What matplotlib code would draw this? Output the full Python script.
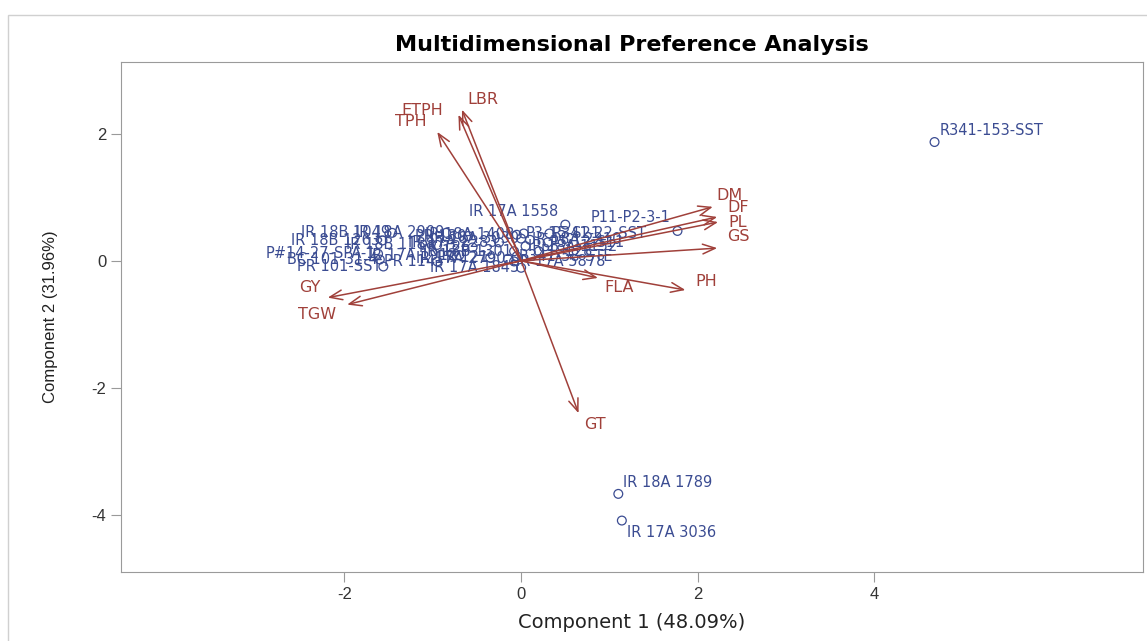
import numpy as np
import matplotlib
matplotlib.use('Agg')
import matplotlib.pyplot as plt
from matplotlib.patches import Rectangle

plt.rcParams['axes.unicode_minus'] = False

# variable vectors (component loadings, scaled)
vec_names = ['LBR', 'ETPH', 'TPH', 'DM', 'DF', 'PL', 'GS', 'PH', 'FLA', 'GT', 'TGW', 'GY']
vec_x = [-0.67, -0.71, -0.95, 2.17, 2.22, 2.23, 2.22, 1.86, 0.87, 0.65, -1.97, -2.19]
vec_y = [2.38, 2.30, 2.03, 0.85, 0.69, 0.61, 0.20, -0.46, -0.27, -2.40, -0.69, -0.58]

# genotype scores
obs_names = ['R341-153-SST', 'IR 18A 1789', 'IR 17A 3036', 'IR 17A 1558', 'P11-P2-3-1',
             'IR 18B 1049', 'IR 18A 2909', 'IR 18B 1263', 'P#14-27-SPA-1', 'BC 101-31-4',
             'PR 101-SST', 'IR 17A 1845', 'IR 18A 1408', 'IR 17A 2283', 'PR 126',
             'IR 18B 1301', 'PR 121', 'IR 17A 1912', 'IR 18A 3030', 'PR 114',
             'IR 18B 1188', 'IR 17A 2790', 'PR 130',
             'P3-15-S21', 'R341-22-SST', 'IR 18A 1152', 'R341-58-STE', 'IR 17A 5878',
             'IR 18A 2210', 'PR 128', 'P5-12-S11']
obs_x = [4.68, 1.10, 1.14, 0.50, 1.77,
         -1.46, -0.85, -1.57, -1.62, -1.60,
         -1.56, 0.00, -0.05, -0.25, -0.55,
         -0.08, -0.35, -0.70, 0.00, -0.95,
         -0.95, -0.15, -0.60,
         0.03, 0.32, 0.05, -0.05, -0.08,
         0.10, 0.20, 0.30]
obs_y = [1.87, -3.67, -4.09, 0.57, 0.47,
         0.44, 0.44, 0.32, 0.11, 0.02,
         -0.09, -0.11, 0.41, 0.29, 0.21,
         0.15, 0.05, 0.09, 0.35, -0.01,
         0.25, 0.03, 0.39,
         0.43, 0.43, 0.23, 0.07, -0.01,
         0.33, 0.15, 0.29]
obs_side = ['ur', 'ur', 'lr', 'ul', 'ul',
            'l', 'l', 'l', 'l', 'l',
            'l', 'l', 'l', 'l', 'l',
            'l', 'l', 'l', 'l', 'l',
            'l', 'l', 'l',
            'r', 'r', 'r', 'r', 'r',
            'r', 'r', 'r']

red = '#A0403A'
blue = '#3B4C92'

fig = plt.figure(figsize=(11.47, 6.41), dpi=100)
fig.patches.append(Rectangle((8 / 1147, -0.1), 1.2, 1 - 15 / 641 + 0.1, transform=fig.transFigure,
                             fill=False, edgecolor='#d0d0d0', lw=1))
ax = fig.add_axes([121 / 1147, 69 / 641, 1022 / 1147, 510 / 641])

ax.scatter(obs_x, obs_y, s=40, facecolors='none', edgecolors=blue, linewidths=0.9, zorder=3)

offs = {'ur': ((5, 4), 'left', 'bottom'), 'lr': ((5, -4), 'left', 'top'),
        'ul': ((-7, 6), 'right', 'bottom'), 'l': ((-2, 0), 'right', 'center'),
        'r': ((2, 0), 'left', 'center')}
for name, x, y, s in zip(obs_names, obs_x, obs_y, obs_side):
    (dx, dy), ha, va = offs[s]
    ax.annotate(name, (x, y), xytext=(dx, dy), textcoords='offset pixels',
                ha=ha, va=va, color=blue, fontsize=10.5, zorder=4)

for x, y in zip(vec_x, vec_y):
    ax.annotate('', xy=(x, y), xytext=(0, 0),
                arrowprops=dict(arrowstyle='->,head_length=0.9,head_width=0.35',
                                color=red, lw=1.1, shrinkA=0, shrinkB=0), zorder=5)

vec_off = [(5, 10, 'left'), (-15, 4, 'right'), (-11, 10, 'right'), (4, 11, 'left'),
           (10, 9, 'left'), (10, 0, 'left'), (10, 12, 'left'), (10, 9, 'left'),
           (6, -10, 'left'), (6, -11, 'left'), (-11, -10, 'right'), (-7, 10, 'right')]
for name, x, y, (dx, dy, ha) in zip(vec_names, vec_x, vec_y, vec_off):
    ax.annotate(name, (x, y), xytext=(dx, dy), textcoords='offset pixels',
                ha=ha, va='center', color=red, fontsize=11.5, zorder=6)

ax.set_xlim(-4.53, 7.04)
ax.set_ylim(-4.90, 3.13)
ax.set_xticks([-2, 0, 2, 4])
ax.set_yticks([-4, -2, 0, 2])
for sp in ax.spines.values():
    sp.set_color('#9a9a9a')
ax.tick_params(direction='out', length=7, color='#9a9a9a', labelcolor='#333333', labelsize=12)
for lab in ax.get_xticklabels() + ax.get_yticklabels():
    lab.set_family('Liberation Sans')

ax.set_xlabel('Component 1 (48.09%)', fontsize=14, color='#222222', labelpad=8)
ax.set_ylabel('Component 2 (31.96%)', fontsize=12, family='Liberation Sans', color='#222222',
              labelpad=24)
ax.set_title('Multidimensional Preference Analysis', fontsize=16, fontweight='bold', pad=8)

plt.savefig('out.png', dpi=100)
